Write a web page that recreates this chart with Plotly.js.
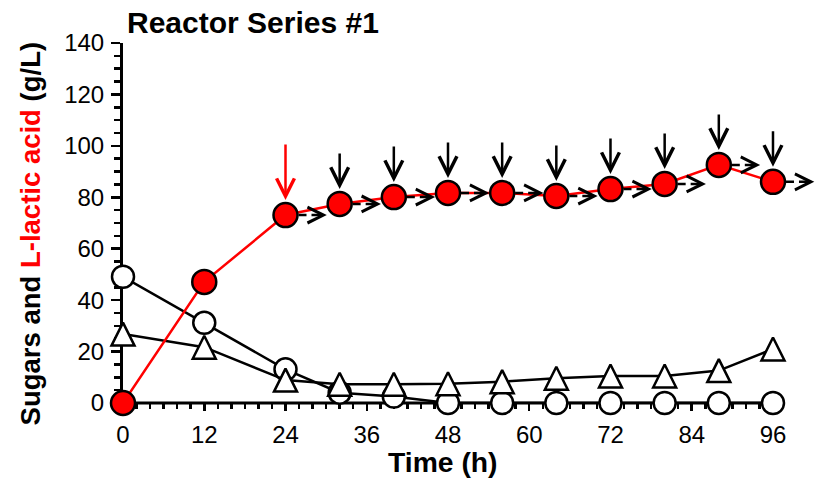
<!DOCTYPE html>
<html>
<head>
<meta charset="utf-8">
<script src="https://cdn.plot.ly/plotly-3.0.1.min.js"></script>
<style>
  html, body { margin: 0; padding: 0; background: #ffffff; }
  #chart { width: 821px; height: 485px; }
</style>
</head>
<body>
<div id="chart"></div>
<script>
// Sampling times (h)
const timeH = [0, 12, 24, 32, 40, 48, 56, 64, 72, 80, 88, 96];
// Concentrations (g/L)
const glucose    = [49.1, 31.2, 13.1, 4.0, 2.5, 0, 0, 0, 0, 0, 0, 0];
const xylose     = [26.8, 21.7, 8.9, 7.3, 7.3, 7.5, 8.3, 9.6, 10.5, 10.5, 12.6, 21.0];
const lacticAcid = [0, 47.1, 73.1, 77.4, 80.1, 81.7, 81.7, 80.5, 83.2, 85.2, 92.6, 86.0];

// Feeding starts at 24 h; each later sample is also a feed/transfer point
const firstFeedTime = 24;

// Axis ticks
const xTickVals = [0, 12, 24, 36, 48, 60, 72, 84, 96];
const xTickText = ['0', '12', '24', '36', '48', '60', '72', '84', '96'];
const yTickVals = [0, 20, 40, 60, 80, 100, 120, 140];
const yTickText = ['0', '20', '40', '60', '80', '100', '120', '140'];

// Drawing style
const FONT = '"Liberation Sans", Arial, sans-serif';
const LINE_W = 2.5;
const ARROW_REACH = 6.1;   // length of the transfer arrows, in hours
const TRI_SIZE = 23;       // triangle marker size (px)

// Minor x ticks every 2 h between the labelled ones
const xMinor = [];
for (let t = 2; t < xTickVals[xTickVals.length - 1]; t += 2) {
  if (t % 12 !== 0) xMinor.push(t);
}

// Dashed transfer arrows (shafts) after each feed point
const dashX = [], dashY = [];
const annotations = [];
timeH.forEach((t, i) => {
  if (t < firstFeedTime) return;
  const v = lacticAcid[i];
  dashX.push(t, t + ARROW_REACH - 0.6, null);
  dashY.push(v, v, null);
  // arrowhead of the transfer arrow
  annotations.push({
    x: t + ARROW_REACH, y: v, xref: 'x', yref: 'y', text: '',
    showarrow: true, ax: -9, ay: 0, arrowhead: 5, arrowsize: 1.25, arrowwidth: LINE_W,
    arrowcolor: '#000000', standoff: 0
  });
  // feed arrow pointing down onto the point
  const first = (t === firstFeedTime);
  annotations.push({
    x: t, y: v, xref: 'x', yref: 'y', text: '',
    showarrow: true, ax: 0, ay: first ? -72 : -52,
    arrowhead: 5, arrowsize: 1.4, arrowwidth: LINE_W,
    arrowcolor: first ? '#ff0000' : '#000000', standoff: 15
  });
});

// Axis titles
annotations.push({
  xref: 'paper', yref: 'paper', x: (443 - 123) / 694, y: -0.164,
  xanchor: 'center', yanchor: 'middle', showarrow: false,
  text: 'Time (h)', font: { family: FONT, size: 28.3, weight: 'bold', color: '#000000' }
});
annotations.push({
  xref: 'paper', yref: 'paper', x: -0.134, y: 0.471,
  xanchor: 'center', yanchor: 'middle', showarrow: false, textangle: -90,
  text: 'Sugars and <span style="color:#ff0000">L-lactic acid</span> (g/L)',
  font: { family: FONT, size: 27.5, weight: 'bold', color: '#000000' }
});

const traces = [
  {
    name: 'Glucose', x: timeH, y: glucose, type: 'scatter', mode: 'lines+markers',
    cliponaxis: false,
    line: { color: '#000000', width: LINE_W },
    marker: { symbol: 'circle', size: 22, color: '#ffffff', line: { color: '#000000', width: LINE_W } }
  },
  {
    // upright triangle centred on the point: a down-arrow shifted by half its height, turned over
    name: 'Xylose', x: timeH, y: xylose, type: 'scatter', mode: 'lines+markers',
    cliponaxis: false,
    line: { color: '#000000', width: LINE_W, backoff: 0 },
    marker: { symbol: 'arrow-down', angle: 180, standoff: TRI_SIZE / 2, size: TRI_SIZE,
              color: '#ffffff', line: { color: '#000000', width: LINE_W } }
  },
  {
    name: 'L-lactic acid', x: timeH, y: lacticAcid, type: 'scatter', mode: 'lines',
    line: { color: '#ff0000', width: LINE_W }, hoverinfo: 'skip'
  },
  {
    name: 'Transfer', x: dashX, y: dashY, type: 'scatter', mode: 'lines',
    line: { color: '#000000', width: LINE_W, dash: '8px,5px' }, hoverinfo: 'skip'
  },
  {
    name: 'L-lactic acid', x: timeH, y: lacticAcid, type: 'scatter', mode: 'markers',
    cliponaxis: false,
    marker: { symbol: 'circle', size: 24, color: '#ff0000', line: { color: '#000000', width: LINE_W } }
  }
];

const layout = {
  width: 821, height: 485,
  margin: { l: 123, r: 4, t: 43, b: 82 },
  paper_bgcolor: '#ffffff', plot_bgcolor: '#ffffff',
  showlegend: false,
  font: { family: FONT, size: 24, color: '#000000' },
  title: {
    text: 'Reactor Series #1',
    font: { family: FONT, size: 30, weight: 'bold', color: '#000000' },
    xref: 'container', x: 127 / 821, xanchor: 'left',
    yref: 'container', y: 1 - 22.5 / 485, yanchor: 'middle'
  },
  xaxis: {
    range: [0, 102.5], showgrid: false, zeroline: false, showline: false,
    tickmode: 'array', tickvals: xTickVals, ticktext: xTickText,
    ticks: 'outside', ticklen: 7, tickwidth: LINE_W, tickcolor: '#000000',
    ticklabelstandoff: 3,
    minor: { ticks: 'outside', tickmode: 'array', tickvals: xMinor, ticklen: 5, tickwidth: LINE_W, tickcolor: '#000000', showgrid: false },
    tickfont: { family: FONT, size: 24, color: '#000000' },
    layer: 'below traces'
  },
  yaxis: {
    range: [0, 140], showgrid: false, zeroline: false,
    showline: true, linewidth: 3, linecolor: '#000000',
    tickmode: 'array', tickvals: yTickVals, ticktext: yTickText,
    ticks: 'outside', ticklen: 9, tickwidth: LINE_W, tickcolor: '#000000',
    ticklabelstandoff: 2,
    minor: { ticks: 'outside', dtick: 5, tick0: 0, ticklen: 6, tickwidth: LINE_W, tickcolor: '#000000', showgrid: false },
    tickfont: { family: FONT, size: 24, color: '#000000' },
    layer: 'below traces'
  },
  shapes: [
    // time axis line, ending at the last sample
    { type: 'line', xref: 'x', yref: 'paper', x0: timeH[0], x1: timeH[timeH.length - 1], y0: 0, y1: 0,
      line: { color: '#000000', width: 3 }, layer: 'below' }
  ],
  annotations: annotations
};

Plotly.newPlot('chart', traces, layout, { displayModeBar: false, staticPlot: true });
</script>
</body>
</html>
